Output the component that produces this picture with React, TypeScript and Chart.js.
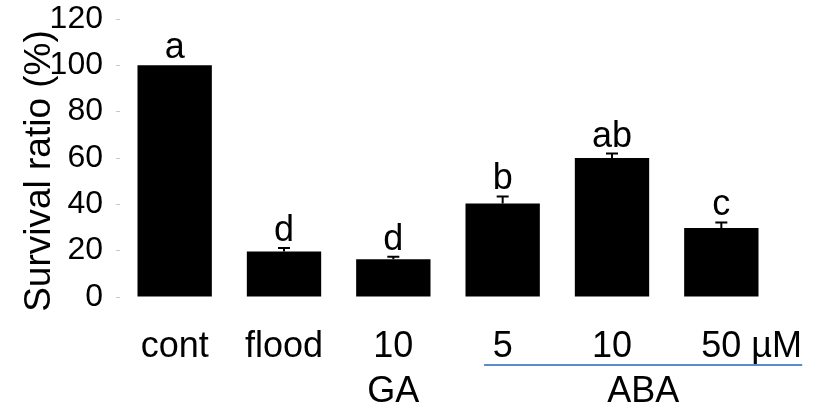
import { useEffect, useRef } from "react";
import { Chart, registerables } from "chart.js";

Chart.register(...registerables);

// ---- data ----
const categories = ["cont", "flood", "10", "5", "10", "50"];
const unitLabel = "µM";
const survival = [100, 19.6, 16.3, 40.4, 60.0, 29.8];
const errorUp = [0, 1.5, 1.1, 3.0, 1.9, 2.4];
const letters = ["a", "d", "d", "b", "ab", "c"];
const groupNames = ["GA", "ABA"];
const groupFrom = [2, 3];
const groupTo = [2, 5];
const groupLine = [false, true];
const yTitle = "Survival ratio (%)";

const FONT = "'Liberation Sans', Arial, Helvetica, sans-serif";

const annotations = {
  id: "annotations",
  afterDatasetsDraw(chart: any) {
    const ctx = chart.ctx as CanvasRenderingContext2D;
    const xs = chart.scales.x;
    const ys = chart.scales.y;
    const area = chart.chartArea;
    const cat = xs.getPixelForValue(1) - xs.getPixelForValue(0);
    ctx.save();

    // error bars + significance letters
    survival.forEach((v, i) => {
      const cx = xs.getPixelForValue(i);
      const base = ys.getPixelForValue(v);
      const top = ys.getPixelForValue(v + errorUp[i]);
      if (errorUp[i] > 0) {
        ctx.strokeStyle = "#000";
        ctx.lineWidth = 2;
        ctx.beginPath();
        ctx.moveTo(cx, base);
        ctx.lineTo(cx, top);
        ctx.moveTo(cx - 6, top);
        ctx.lineTo(cx + 6, top);
        ctx.stroke();
      }
      ctx.fillStyle = "#000";
      ctx.font = `36px ${FONT}`;
      ctx.textAlign = "center";
      ctx.textBaseline = "alphabetic";
      ctx.fillText(letters[i], cx, top - 7);
    });

    // category labels (row 1)
    const row1 = area.bottom + 60;
    const row2 = area.bottom + 105;
    ctx.font = `36px ${FONT}`;
    ctx.fillStyle = "#000";
    ctx.textBaseline = "alphabetic";
    categories.forEach((c, i) => {
      const cx = xs.getPixelForValue(i);
      if (i === categories.length - 1) {
        const w = ctx.measureText(c).width;
        ctx.textAlign = "center";
        ctx.fillText(c, cx, row1);
        ctx.textAlign = "left";
        ctx.fillText(" " + unitLabel, cx + w / 2, row1);
      } else {
        ctx.textAlign = "center";
        ctx.fillText(c, cx, row1);
      }
    });

    // group labels (row 2)
    groupNames.forEach((g, k) => {
      let cx: number;
      if (groupLine[k]) {
        const x0 = xs.getPixelForValue(groupFrom[k]) - 0.17 * cat;
        const x1 = xs.getPixelForValue(groupTo[k]) + 0.74 * cat;
        ctx.strokeStyle = "#5b8bc9";
        ctx.lineWidth = 2;
        ctx.beginPath();
        ctx.moveTo(x0, area.bottom + 68);
        ctx.lineTo(x1, area.bottom + 68);
        ctx.stroke();
        cx = (x0 + x1) / 2;
      } else {
        cx = (xs.getPixelForValue(groupFrom[k]) + xs.getPixelForValue(groupTo[k])) / 2;
      }
      ctx.fillStyle = "#000";
      ctx.textAlign = "center";
      ctx.fillText(g, cx, row2);
    });

    // y axis title
    ctx.translate(50, (area.top + area.bottom) / 2 + 13);
    ctx.rotate(-Math.PI / 2);
    ctx.font = `37px ${FONT}`;
    ctx.textAlign = "center";
    ctx.textBaseline = "alphabetic";
    ctx.fillText(yTitle, 0, 0);
    ctx.restore();
  },
};

export default function App() {
  const ref = useRef<HTMLCanvasElement | null>(null);

  useEffect(() => {
    if (!ref.current) return;
    const chart = new Chart(ref.current, {
      type: "bar",
      data: {
        labels: categories,
        datasets: [
          {
            data: survival,
            backgroundColor: "#000",
            borderWidth: 0,
            barPercentage: 0.68,
            categoryPercentage: 1,
          },
        ],
      },
      options: {
        animation: false,
        responsive: false,
        maintainAspectRatio: false,
        layout: { padding: { top: 19, right: 45, bottom: 0, left: 0 } },
        plugins: {
          legend: { display: false },
          tooltip: { enabled: false },
          title: { display: false },
        },
        scales: {
          x: {
            grid: { display: false },
            border: { display: false },
            ticks: { display: false },
            afterFit: (s: any) => {
              s.height = 108;
              s.paddingLeft = 0;
              s.paddingRight = 0;
            },
          },
          y: {
            min: 0,
            max: 120,
            ticks: {
              stepSize: 20,
              color: "#000",
              padding: 13,
              font: { family: FONT, size: 32 },
            },
            grid: {
              drawOnChartArea: false,
              drawTicks: true,
              tickLength: 4,
              color: "#c8c8c8",
            },
            border: { display: false },
            afterFit: (s: any) => {
              s.width = 120;
              s.paddingTop = 0;
              s.paddingBottom = 0;
            },
          },
        },
      },
      plugins: [annotations],
    });
    return () => chart.destroy();
  }, []);

  return (
    <div style={{ position: "fixed", left: 0, top: 0, width: 821, height: 405, background: "#fff" }}>
      <canvas ref={ref} width={821} height={405} style={{ width: 821, height: 405 }} />
    </div>
  );
}
